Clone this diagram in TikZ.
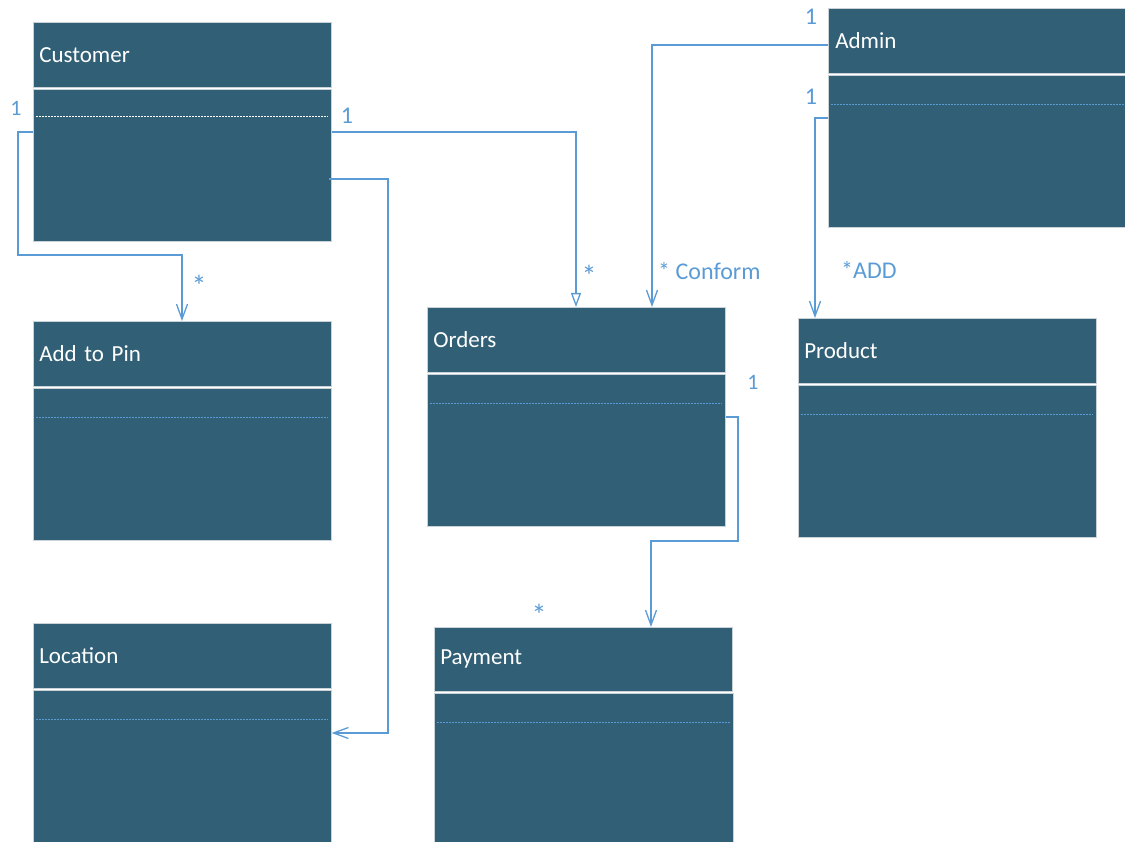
\documentclass[tikz,border=0pt]{standalone}
\usepackage{fontspec}
\setmainfont{Carlito}
\usetikzlibrary{arrows.meta}
\definecolor{classfill}{RGB}{49,96,118}
\definecolor{linkblue}{RGB}{91,155,213}
\definecolor{rimgray}{RGB}{200,210,215}
\tikzset{
  titlebox/.style={rectangle, fill=classfill, draw=rimgray, line width=0.6pt,
    minimum width=298pt, minimum height=65pt, text width=286pt, inner xsep=6pt,
    align=left, anchor=north west, text=white, font=\fontsize{23}{25}\selectfont},
  bodybox/.style={rectangle, fill=classfill, draw=rimgray, line width=0.6pt,
    minimum width=298pt, anchor=north west, inner sep=0pt},
  sepline/.style={linkblue, line width=0.9pt, dash pattern=on 2pt off 1pt},
  assoc/.style={draw=linkblue, line width=1.3pt, -{Straight Barb[length=15pt,width=11pt]}},
  gen/.style={draw=linkblue, line width=1.3pt, -{Triangle[open,length=14pt,width=10pt,fill=white]}},
  mult/.style={text=linkblue, inner sep=0pt, font=\fontsize{24}{26}\selectfont},
  smallmult/.style={mult, font=\fontsize{22}{24}\selectfont},
  star/.style={mult, font=\fontsize{30}{32}\selectfont},
}
\begin{document}
\begin{tikzpicture}[x=1pt,y=-1pt]
\useasboundingbox (0,0) rectangle (1125,842);

% class boxes: title band + body
\node[titlebox] (cust) at (33,22) {Customer};
\node[bodybox, minimum height=152pt] (custb) at (33,89) {};
\draw[white, line width=1pt, dash pattern=on 2pt off 1pt] (36,117) -- (328,117);

\node[titlebox] (pin) at (33,321) {Add to Pin};
\node[bodybox, minimum height=152pt] (pinb) at (33,388) {};
\draw[sepline] (36,417) -- (328,417);

\node[titlebox] (loc) at (33,623) {Location};
\node[bodybox, minimum height=155pt] (locb) at (33,690) {};
\draw[sepline] (36,719) -- (328,719);

\node[titlebox] (ord) at (427,307) {Orders};
\node[bodybox, minimum height=152pt] (ordb) at (427,374) {};
\draw[sepline] (430,403) -- (722,403);

\node[titlebox, minimum height=64pt] (pay) at (434,627) {Payment};
\node[bodybox, minimum width=299pt, minimum height=152pt] (payb) at (434,693) {};
\draw[sepline] (437,722) -- (730,722);

\node[titlebox, minimum width=300pt] (adm) at (828,8) {Admin};
\node[bodybox, minimum width=300pt, minimum height=152pt] (admb) at (828,75) {};
\draw[sepline] (831,104) -- (1125,104);

\node[titlebox] (prod) at (798,318) {Product};
\node[bodybox, minimum height=152pt] (prodb) at (798,385) {};
\draw[sepline] (801,414) -- (1093,414);

% connector bend points
\coordinate (k1) at (18,132);
\coordinate (k2) at (182,255);
\coordinate (k3) at (576,132);
\coordinate (k4) at (388,179);
\coordinate (k5) at (388,733);
\coordinate (k6) at (652,45);
\coordinate (k7) at (815,118);
\coordinate (k8) at (738,417);
\coordinate (k9) at (651,541);

% associations
\draw[assoc] (custb.west |- k1) -- (k1) |- (k2) -- (pin.north -| k2);
\draw[gen] (custb.east |- k3) -- (k3) -- (ord.north -| k3);
\draw[assoc] ([xshift=-3pt]custb.east |- k4) -- (k4) -- (k5) -- (locb.east |- k5);
\draw[assoc] (adm.west |- k6) -- (k6) -- (ord.north -| k6);
\draw[assoc] (admb.west |- k7) -- (k7) -- (prod.north -| k7);
\draw[assoc] (ordb.east |- k8) -- (k8) |- (k9) -- (pay.north -| k9);

% multiplicities and role names
\node[smallmult] (m1) at (16,108) {1};
\node[star] (m2) at (199,286) {*};
\node[mult] (m3) at (347,116) {1};
\node[star] (m4) at (589,276) {*};
\node[mult, anchor=west] (m5) at (658,271) {* Conform};
\node[mult] (m6) at (811,17) {1};
\node[mult] (m7) at (811,97) {1};
\node[mult, anchor=west] (m8) at (841,270) {*ADD};
\node[smallmult] (m9) at (753,382) {1};
\node[star] (m10) at (539,615) {*};
\end{tikzpicture}
\end{document}
